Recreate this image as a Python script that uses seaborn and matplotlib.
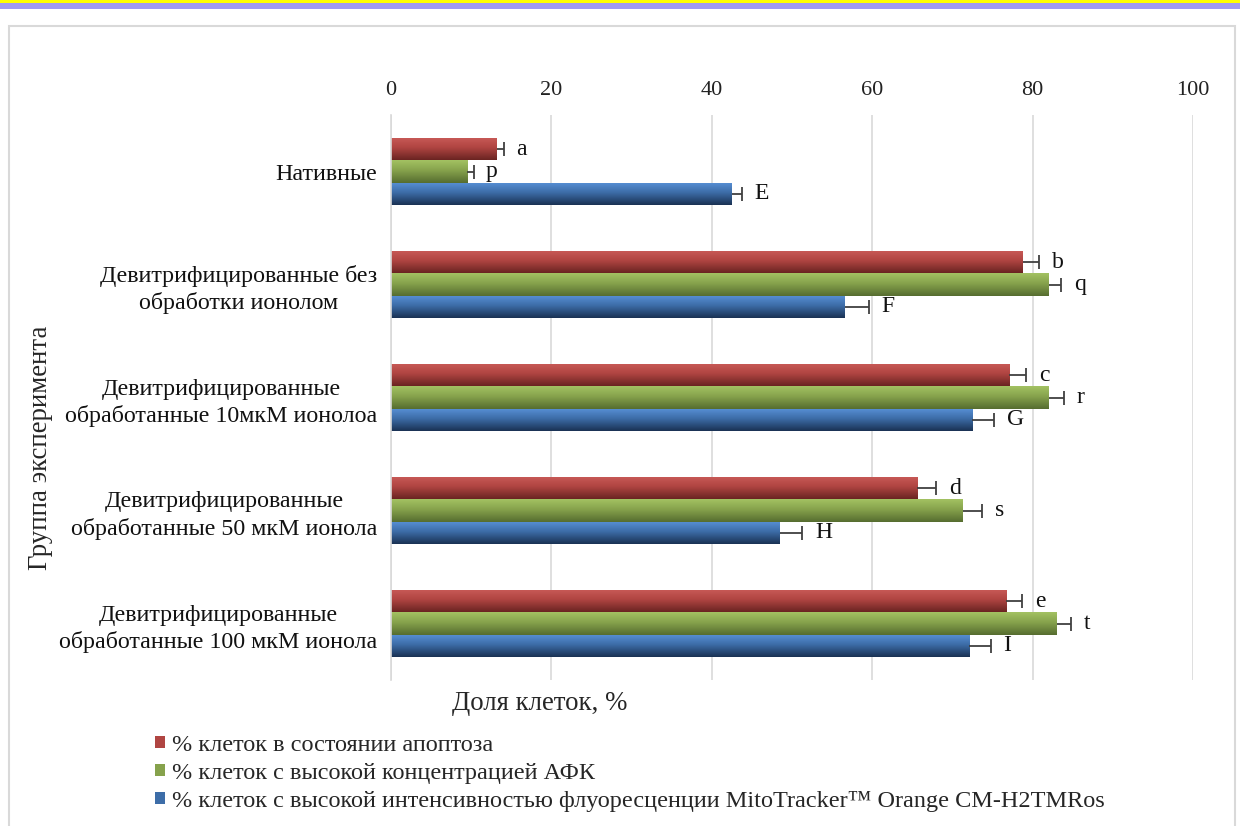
import numpy as np
import pandas as pd
import matplotlib
matplotlib.use("Agg")
import matplotlib.pyplot as plt
from matplotlib.patches import Rectangle, Patch
from matplotlib.colors import to_rgb
import seaborn as sns

# ---- data -------------------------------------------------------------
categories = [
    "Нативные",
    "Девитрифицированные без\nобработки ионолом",
    "Девитрифицированные\nобработанные 10мкМ ионолоа",
    "Девитрифицированные\nобработанные 50 мкМ ионола",
    "Девитрифицированные\nобработанные 100 мкМ ионола",
]
series_names = [
    "% клеток в состоянии апоптоза",
    "% клеток с высокой концентрацией АФК",
    "% клеток с высокой интенсивностью флуоресценции MitoTracker™ Orange CM-H2TMRos",
]
apoptosis = [13.2, 78.8, 77.1, 65.6, 76.7]
ros = [9.5, 82.0, 82.0, 71.3, 83.0]
mito = [42.5, 56.6, 72.5, 48.5, 72.1]

apoptosis_err = [0.9, 2.0, 2.1, 2.4, 2.0]
ros_err = [0.8, 1.6, 1.9, 2.4, 1.8]
mito_err = [1.3, 3.0, 2.7, 2.8, 2.7]

apoptosis_letters = ["a", "b", "c", "d", "e"]
ros_letters = ["p", "q", "r", "s", "t"]
mito_letters = ["E", "F", "G", "H", "I"]

x_ticks = [0, 20, 40, 60, 80, 100]

# gradient stops (top, middle, bottom) for each series
palette_top = ["#C95A57", "#A3C262", "#5890D6"]
palette_mid = ["#B04542", "#86A24C", "#3D6DA8"]
palette_bot = ["#6A2422", "#566D30", "#1A3254"]

values = [apoptosis, ros, mito]
errors = [apoptosis_err, ros_err, mito_err]
letters = [apoptosis_letters, ros_letters, mito_letters]

df = pd.DataFrame({
    "group": np.tile(categories, 3),
    "series": np.repeat(series_names, len(categories)),
    "value": np.concatenate(values),
})

# ---- figure -----------------------------------------------------------
sns.set_theme(style="white")
plt.rcParams["font.family"] = ["Liberation Serif", "DejaVu Serif"]

W, H = 1240, 826
fig = plt.figure(figsize=(W / 100, H / 100), dpi=100)
ax = fig.add_axes([391 / W, 1 - 680 / H, (1193 - 391) / W, (680 - 115) / H])

sns.barplot(
    data=df, y="group", x="value", hue="series", orient="h",
    order=categories, hue_order=series_names, palette=palette_mid,
    width=0.59, gap=0, errorbar=None, legend=False, ax=ax, linewidth=0,
    saturation=1,
)

ax.set_xlim(0, 100)
xlim = ax.get_xlim()
ylim = ax.get_ylim()
bar_containers = list(ax.containers)

# gradient fill clipped to each bar, plus one-sided error bars and letters
for s, container in enumerate(bar_containers):
    stops = np.array([to_rgb(palette_top[s]), to_rgb(palette_mid[s]), to_rgb(palette_bot[s])])
    t = np.linspace(0, 1, 64)
    grad = np.stack([np.interp(t, [0, 0.45, 1], stops[:, c]) for c in range(3)], axis=-1)
    grad = grad[:, None, :]
    ys, xs = [], []
    for bar in container.patches:
        x0, y0 = bar.get_x(), bar.get_y()
        w, h = bar.get_width(), bar.get_height()
        im = ax.imshow(grad, extent=(x0, x0 + w, y0 + h, y0), origin="upper",
                       aspect="auto", zorder=2, interpolation="bilinear")
        im.set_clip_path(bar)
        ys.append(y0 + h / 2)
        xs.append(x0 + w)
    err = np.array(errors[s])
    _, caps, _ = ax.errorbar(xs, ys, xerr=[np.zeros_like(err), err], fmt="none",
                             ecolor="#404040", elinewidth=1.3, capsize=5,
                             capthick=1.3, zorder=3)
    for cap in caps:
        if np.allclose(cap.get_xdata(), xs):
            cap.set_visible(False)
    for xv, yv, e, lab in zip(xs, ys, err, letters[s]):
        ax.annotate(lab, (xv + e, yv), xytext=(9, 0), textcoords="offset points",
                    ha="left", va="center", fontsize=17, color="#111111")

ax.set_xlim(xlim)
ax.set_ylim(ylim)

# axes styling
ax.xaxis.tick_top()
ax.set_xticks(x_ticks)
ax.set_xticklabels([str(v) for v in x_ticks])
ax.tick_params(axis="x", length=0, pad=11, labelsize=16, colors="#222222")
ax.tick_params(axis="y", length=0, pad=10, labelsize=17.3, colors="#111111")
for lab in ax.get_yticklabels():
    lab.set_multialignment("center")
    lab.set_linespacing(1.3)
ax.grid(axis="x", color="#d9d9d9", linewidth=1.2, zorder=0)
ax.set_axisbelow(True)
for sp in ["top", "right", "bottom"]:
    ax.spines[sp].set_visible(False)
ax.spines["left"].set_color("#d9d9d9")
ax.spines["left"].set_linewidth(1.2)
ax.set_xlabel("")
ax.set_ylabel("")

fig.text(540 / W, 1 - 703 / H, "Доля клеток, %", ha="center", va="center", fontsize=19.4)
fig.text(41 / W, 1 - 448 / H, "Группа эксперимента", ha="center", va="center",
         rotation=90, fontsize=19.4)

# legend
handles = [Patch(facecolor=palette_mid[i], edgecolor="none") for i in range(3)]
fig.legend(handles, series_names, loc="upper left",
           bbox_to_anchor=(155 / W, 1 - 735 / H), frameon=False, fontsize=17.5,
           handlelength=0.4, handleheight=0.4, handletextpad=0.3,
           labelspacing=0.28, borderaxespad=0, borderpad=0)

# outer chart frame and page stripes
fig.add_artist(Rectangle((9 / W, -0.01), (1235 - 9) / W, (1 - 26 / H) + 0.01,
                         transform=fig.transFigure, fill=False,
                         edgecolor="#d9d9d9", linewidth=1.5))
fig.add_artist(Rectangle((0, 1 - 3 / H), 1, 3 / H, transform=fig.transFigure,
                         facecolor="#FFFF00", edgecolor="none"))
fig.add_artist(Rectangle((0, 1 - 9 / H), 1, 6 / H, transform=fig.transFigure,
                         facecolor="#A09AF0", edgecolor="none"))

fig.savefig("out.png", dpi=100)
